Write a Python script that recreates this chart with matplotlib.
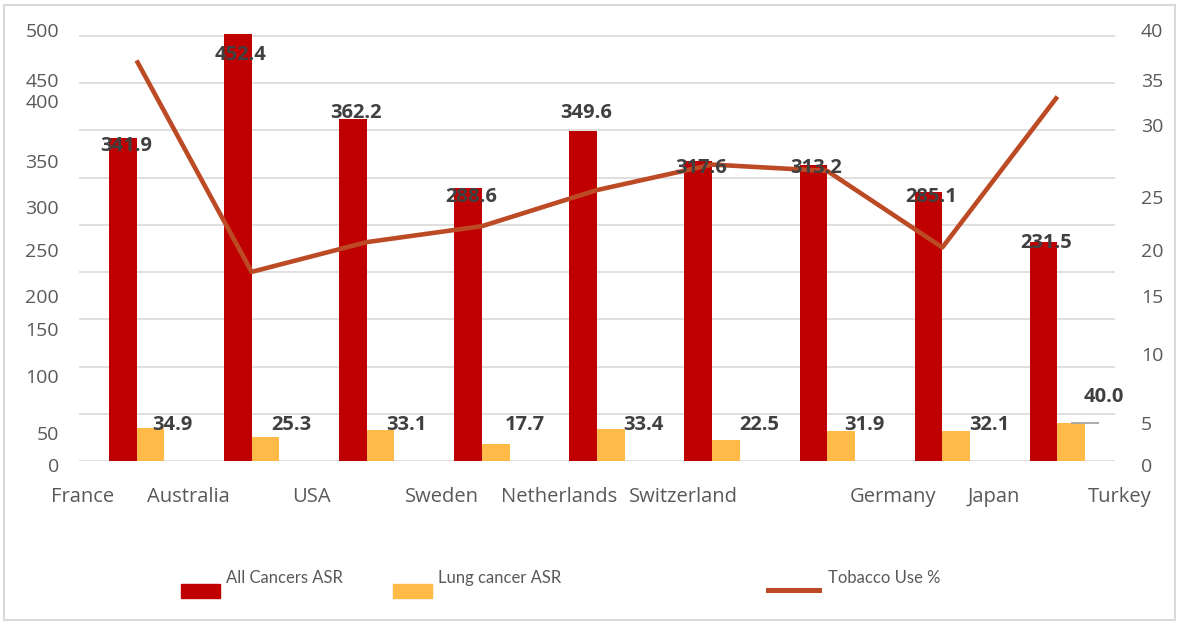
import matplotlib.pyplot as plt
import matplotlib.transforms as mtransforms
from matplotlib.patches import Rectangle
from matplotlib.lines import Line2D
import numpy as np

plt.rcParams['font.family'] = ['Open Sans', 'DejaVu Sans']

# Data
countries = ["France", "Australia", "USA", "Sweden", "Netherlands",
             "Switzerland", "Germany", "Japan", "Turkey"]
all_cancers = [341.9, 452.4, 362.2, 288.6, 349.6, 317.6, 313.2, 285.1, 231.5]
lung_cancer = [34.9, 25.3, 33.1, 17.7, 33.4, 22.5, 31.9, 32.1, 40.0]
tobacco_use = [37.7, 17.8, 20.6, 22.1, 25.5, 27.9, 27.3, 20.1, 34.3]

left_labels = ["500", "450", "400", "350", "300", "250", "200", "150", "100", "50", "0"]
right_labels = ["40", "35", "30", "25", "20", "15", "10", "5", "0"]

# Layout: where the axis texts sit (left/right in axis units, x as shift from group)
left_label_y = [454, 401, 379, 316, 267, 221, 173, 138, 88, 28, -6]
right_label_y = [40.4, 35.7, 31.4, 24.7, 19.7, 15.3, 9.9, 3.4, -0.6]
x_label_shift = [-0.47, -0.55, -0.48, -0.35, -0.33, -0.25, 0.57, 0.45, 0.54]
# value label offsets in pixels (dx, dy)
red_lbl_dy = [-8, -21, 6, -9, 18, -7, -3, -5, -1]
lung_lbl_dx = [22, 26, 26, 29, 33, 33, 23, 33, 33]
lung_lbl_dy = [3, 12, 5, 19, 4.5, 15, 6, 6, 26]

RED = "#C00000"
GOLD = "#FFBA47"
LINE = "#BC4B25"
GRID = "#D9D9D9"
TICK = "#595959"
LBL = "#404040"
LEGEND_FONT = ['Lato', 'DejaVu Sans']

W, H = 1180, 625
fig = plt.figure(figsize=(W / 100, H / 100), dpi=100)

# plot area: x 79..1115 px, baseline at y=461 px, 450 gridline at y=36 px
left_top = 470
px_per_unit = 425 / 450
top_px = 461 - left_top * px_per_unit
ax = fig.add_axes([79 / W, (H - 461) / H, 1036 / W, (461 - top_px) / H])
ax2 = ax.twinx()

x = np.arange(len(countries))
bw = 0.24
ax.bar(x - bw / 2, all_cancers, bw, color=RED, zorder=2)
ax.bar(x + bw / 2, lung_cancer, bw, color=GOLD, zorder=2)
ax2.plot(x, tobacco_use, color=LINE, lw=3.3, solid_capstyle="butt", zorder=3)

ax.set_xlim(-0.5, len(countries) - 0.5)
ax.set_ylim(0, left_top)
ax2.set_ylim(0, left_top * 40 / 450)

ax.set_yticks(np.arange(0, 451, 50))
ax.grid(axis="y", color=GRID, lw=1.2)
ax.set_axisbelow(True)
for a in (ax, ax2):
    a.tick_params(left=False, right=False, bottom=False,
                  labelleft=False, labelright=False, labelbottom=False)
    for s in a.spines.values():
        s.set_visible(False)

# axis texts
tl = mtransforms.blended_transform_factory(ax.transAxes, ax.transData)
for txt, yv in zip(left_labels, left_label_y):
    ax.text(-0.0193, yv, txt, transform=tl, ha="right", va="center",
            fontsize=14, color=TICK, clip_on=False)
tr = mtransforms.blended_transform_factory(ax2.transAxes, ax2.transData)
for txt, yv in zip(right_labels, right_label_y):
    ax2.text(1.0251, yv, txt, transform=tr, ha="left", va="center",
             fontsize=14, color=TICK, clip_on=False)
tx = mtransforms.blended_transform_factory(ax.transData, ax.transAxes)
for i, (name, sh) in enumerate(zip(countries, x_label_shift)):
    ax.text(i + sh, -36 / (461 - top_px), name, transform=tx, ha="center",
            va="center", fontsize=14.5, color=TICK, clip_on=False)

# value labels (drawn on the twin so they sit above the line)
for i, v in enumerate(all_cancers):
    ax2.annotate(f"{v:.1f}", xy=(i - bw / 2, v), xycoords=ax.transData,
                 xytext=(3, red_lbl_dy[i]), textcoords="offset pixels",
                 ha="center", va="center", fontsize=14.5, fontweight="bold",
                 color=LBL, zorder=5)
for i, v in enumerate(lung_cancer):
    ax2.annotate(f"{v:.1f}", xy=(i + bw / 2, v), xycoords=ax.transData,
                 xytext=(lung_lbl_dx[i], lung_lbl_dy[i]), textcoords="offset pixels",
                 ha="center", va="center", fontsize=14.5, fontweight="bold",
                 color=LBL, zorder=5)
# leader line for the last lung label
last = len(countries) - 1
ax.hlines(lung_cancer[last], last + bw / 2, last + bw / 2 + 0.24,
          color="#A6A6A6", lw=1.3, zorder=3)

# legend
def fx(px):
    return px / W

def fy(py):
    return 1 - py / H

fig.add_artist(Rectangle((fx(181), fy(598)), fx(39), 14 / H, color=RED,
                         transform=fig.transFigure))
fig.text(fx(226), fy(578), "All Cancers ASR", fontsize=12, color=TICK,
         ha="left", va="center", family=LEGEND_FONT)
fig.add_artist(Rectangle((fx(393), fy(598)), fx(39), 14 / H, color=GOLD,
                         transform=fig.transFigure))
fig.text(fx(438), fy(578), "Lung cancer ASR", fontsize=12, color=TICK,
         ha="left", va="center", family=LEGEND_FONT)
fig.add_artist(Line2D([fx(768), fx(819)], [fy(590), fy(590)], color=LINE,
                      lw=3.6, transform=fig.transFigure))
fig.text(fx(828), fy(578), "Tobacco Use %", fontsize=12, color=TICK,
         ha="left", va="center", family=LEGEND_FONT)

# chart border
fig.add_artist(Rectangle((fx(4), fy(620)), fx(1171), 615 / H, fill=False,
                         ec=GRID, lw=1.5, transform=fig.transFigure))

fig.savefig("out.png", dpi=100)
